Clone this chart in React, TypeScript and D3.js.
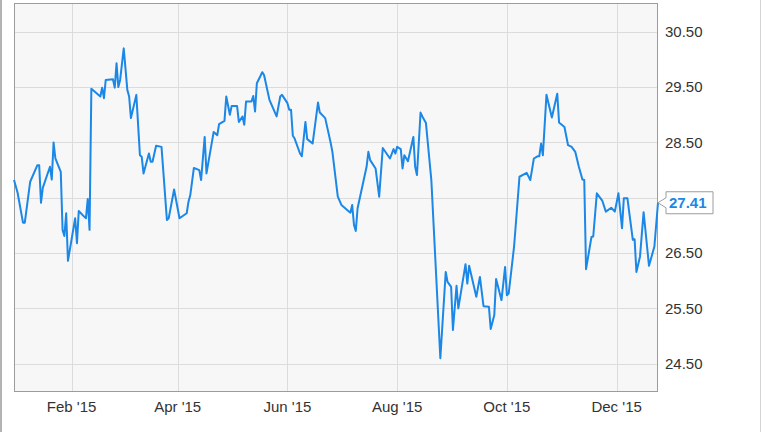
import React from 'react'
import * as d3 from 'd3'

// daily closes
const dates = [
  '2014-12-31', '2015-01-02', '2015-01-05', '2015-01-06', '2015-01-09', '2015-01-13', '2015-01-14', '2015-01-15',
  '2015-01-16', '2015-01-20', '2015-01-21', '2015-01-22', '2015-01-23', '2015-01-26', '2015-01-27', '2015-01-28',
  '2015-01-29', '2015-01-30', '2015-02-03', '2015-02-04', '2015-02-05', '2015-02-08', '2015-02-09', '2015-02-10',
  '2015-02-11', '2015-02-12', '2015-02-17', '2015-02-18', '2015-02-19', '2015-02-20', '2015-02-24', '2015-02-25',
  '2015-02-26', '2015-02-27', '2015-02-28', '2015-03-02', '2015-03-04', '2015-03-05', '2015-03-06', '2015-03-09',
  '2015-03-11', '2015-03-12', '2015-03-13', '2015-03-16', '2015-03-17', '2015-03-18', '2015-03-20', '2015-03-23',
  '2015-03-26', '2015-03-27', '2015-03-30', '2015-04-02', '2015-04-06', '2015-04-07', '2015-04-08', '2015-04-10',
  '2015-04-13', '2015-04-14', '2015-04-16', '2015-04-17', '2015-04-21', '2015-04-23', '2015-04-24', '2015-04-27',
  '2015-04-28', '2015-04-30', '2015-05-01', '2015-05-04', '2015-05-05', '2015-05-07', '2015-05-08', '2015-05-09',
  '2015-05-12', '2015-05-13', '2015-05-14', '2015-05-15', '2015-05-17', '2015-05-18', '2015-05-19', '2015-05-22',
  '2015-05-26', '2015-05-28', '2015-05-29', '2015-06-01', '2015-06-02', '2015-06-03', '2015-06-04', '2015-06-05',
  '2015-06-08', '2015-06-09', '2015-06-11', '2015-06-12', '2015-06-15', '2015-06-18', '2015-06-19', '2015-06-22',
  '2015-06-25', '2015-06-26', '2015-06-29', '2015-07-01', '2015-07-06', '2015-07-07', '2015-07-08', '2015-07-09',
  '2015-07-10', '2015-07-15', '2015-07-16', '2015-07-17', '2015-07-20', '2015-07-22', '2015-07-24', '2015-07-28',
  '2015-07-30', '2015-07-31', '2015-08-01', '2015-08-03', '2015-08-04', '2015-08-05', '2015-08-07', '2015-08-10',
  '2015-08-11', '2015-08-12', '2015-08-14', '2015-08-15', '2015-08-17', '2015-08-20', '2015-08-25', '2015-08-28',
  '2015-08-29', '2015-08-31', '2015-09-01', '2015-09-03', '2015-09-04', '2015-09-08', '2015-09-09', '2015-09-10',
  '2015-09-14', '2015-09-16', '2015-09-18', '2015-09-21', '2015-09-22', '2015-09-24', '2015-09-25', '2015-09-28',
  '2015-09-30', '2015-10-01', '2015-10-02', '2015-10-05', '2015-10-08', '2015-10-12', '2015-10-14', '2015-10-16',
  '2015-10-18', '2015-10-19', '2015-10-20', '2015-10-21', '2015-10-23', '2015-10-26', '2015-10-29', '2015-10-30',
  '2015-11-02', '2015-11-04', '2015-11-06', '2015-11-08', '2015-11-10', '2015-11-12', '2015-11-13', '2015-11-14',
  '2015-11-17', '2015-11-18', '2015-11-20', '2015-11-23', '2015-11-25', '2015-11-28', '2015-11-30', '2015-12-02',
  '2015-12-04', '2015-12-05', '2015-12-07', '2015-12-10', '2015-12-11', '2015-12-12', '2015-12-14', '2015-12-16',
  '2015-12-19', '2015-12-22', '2015-12-24',
]

const prices = [
  27.82, 27.59, 27.05, 27.05, 27.79, 28.09, 28.09, 27.41,
  27.68, 28.06, 27.83, 28.50, 28.21, 27.97, 26.92, 26.81,
  27.22, 26.36, 27.13, 26.68, 27.26, 27.16, 27.13, 27.48,
  26.92, 29.47, 29.33, 29.49, 29.30, 29.63, 29.64, 29.49,
  29.93, 29.50, 29.63, 30.20, 29.45, 29.33, 28.94, 29.36,
  28.27, 28.24, 27.94, 28.30, 28.15, 28.15, 28.44, 28.42,
  27.10, 27.13, 27.65, 27.13, 27.22, 27.43, 27.55, 28.04,
  28.00, 27.82, 28.60, 27.94, 28.69, 28.63, 28.83, 28.89,
  29.33, 29.00, 29.16, 29.16, 28.87, 28.97, 28.82, 29.24,
  29.24, 29.34, 29.06, 29.57, 29.70, 29.77, 29.72, 29.27,
  28.97, 29.33, 29.36, 29.21, 29.09, 29.09, 28.62, 28.57,
  28.30, 28.25, 28.87, 28.56, 28.48, 29.22, 29.04, 28.94,
  28.50, 28.33, 27.52, 27.37, 27.23, 27.37, 27.01, 26.90,
  27.31, 28.06, 28.33, 28.18, 28.03, 27.52, 28.40, 28.21,
  28.38, 28.30, 28.42, 28.38, 28.03, 28.27, 28.16, 28.60,
  28.06, 27.91, 29.04, 28.97, 28.85, 27.82, 24.60, 26.16,
  25.98, 25.89, 25.11, 25.91, 25.50, 26.30, 25.95, 26.27,
  25.71, 26.07, 25.54, 25.53, 25.13, 25.38, 26.03, 25.65,
  26.25, 25.74, 25.77, 26.62, 27.88, 27.95, 27.82, 28.21,
  28.25, 28.25, 28.48, 28.27, 29.36, 28.95, 29.38, 28.86,
  28.78, 28.45, 28.42, 28.33, 28.06, 27.83, 27.82, 26.21,
  26.79, 26.80, 27.58, 27.45, 27.25, 27.32, 27.25, 27.58,
  26.95, 27.49, 27.49, 26.74, 26.75, 26.16, 26.44, 27.24,
  26.27, 26.62, 27.41,
]

const xTicks = ['2015-02-01', '2015-04-01', '2015-06-01', '2015-08-01', '2015-10-01', '2015-12-01']
const yTicks = [24.5, 25.5, 26.5, 27.5, 28.5, 29.5, 30.5]
const xDomain = ['2014-12-31', '2015-12-24']
const yDomain = [23.99, 31.02]

const W = 764
const H = 432
const left = 14
const right = 658
const top = 3
const bottom = 392
const lineColor = '#1b87e6'
const font = '"Liberation Sans", Arial, sans-serif'

const parse = d3.utcParse('%Y-%m-%d')

export default function App() {
  const x = d3.scaleUtc().domain(xDomain.map(d => parse(d) as Date)).range([left, right])
  const y = d3.scaleLinear().domain(yDomain).range([bottom, top])
  const fmt = d3.utcFormat("%b '%y")

  const data = dates.map((d, i) => ({ date: parse(d) as Date, value: prices[i] }))
  const line = d3.line<{ date: Date; value: number }>()
    .x(d => x(d.date))
    .y(d => y(d.value))

  const last = data[data.length - 1]
  const lx = x(last.date)
  const ly = y(last.value)

  // the last-price flag hides any axis label it would sit on
  const visibleLabels = yTicks.filter(t => Math.abs(y(t) - ly) > 18)

  return (
    <svg width={W} height={H} style={{ position: 'absolute', left: 0, top: 0, background: '#fff' }}>
      <line x1={1} x2={1} y1={0} y2={H} stroke="#9a9a9a" strokeWidth={1.5} />
      <line x1={760.5} x2={760.5} y1={0} y2={H} stroke="#d4d4d4" strokeWidth={1} />
      <rect x={left} y={top} width={right - left} height={bottom - top} fill="#f7f7f7" />
      {yTicks.map(t => (
        <line key={'gy' + t} x1={left} x2={right} y1={Math.round(y(t)) + 0.5} y2={Math.round(y(t)) + 0.5}
          stroke="#dcdcdc" strokeWidth={1} />
      ))}
      {xTicks.map(t => {
        const px = Math.round(x(parse(t) as Date)) + 0.5
        return <line key={'gx' + t} x1={px} x2={px} y1={top} y2={bottom} stroke="#dcdcdc" strokeWidth={1} />
      })}
      <rect x={left + 0.5} y={top + 0.5} width={right - left - 1} height={bottom - top - 1} fill="none"
        stroke="#9c9c9c" strokeWidth={1} />
      <path d={line(data) ?? ''} fill="none" stroke={lineColor} strokeWidth={2} strokeLinejoin="round" />
      {visibleLabels.map(t => (
        <text key={'ty' + t} x={665} y={y(t)} dy="0.35em" fontFamily={font} fontSize={15} fill="#333">
          {t.toFixed(2)}
        </text>
      ))}
      {xTicks.map(t => (
        <text key={'tx' + t} x={x(parse(t) as Date)} y={407} dy="0.35em" textAnchor="middle"
          fontFamily={font} fontSize={15} fill="#333">
          {fmt(parse(t) as Date)}
        </text>
      ))}
      <path
        d={`M${lx},${ly} L${lx + 8},${ly - 5} L${lx + 8},${ly - 11} L${lx + 55},${ly - 11} L${lx + 55},${ly + 11} L${lx + 8},${ly + 11} L${lx + 8},${ly + 5} Z`}
        fill="#fff" stroke="#9c9c9c" strokeWidth={1} />
      <text x={lx + 11} y={ly} dy="0.36em" fontFamily={font} fontSize={15} fontWeight="bold" fill={lineColor}>
        {last.value.toFixed(2)}
      </text>
    </svg>
  )
}
